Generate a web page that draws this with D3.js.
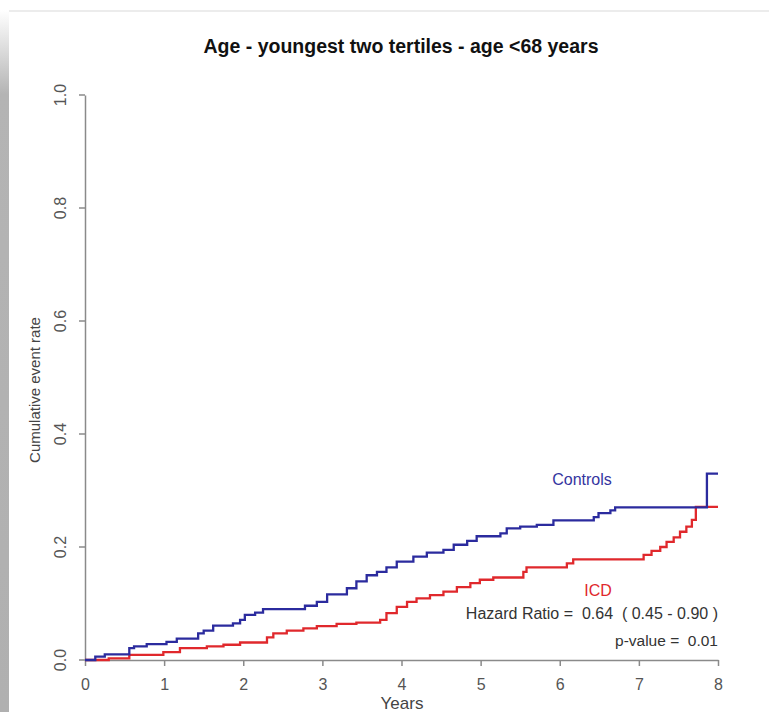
<!DOCTYPE html>
<html lang="en">
<head>
<meta charset="UTF-8">
<title>Age - youngest two tertiles</title>
<script src="https://d3js.org/d3.v7.min.js"></script>
<style>
  body { margin: 0; background: #fff; }
  svg { display: block; font-family: "Liberation Sans", Arial, sans-serif; }
  .axis path, .axis line { stroke: #8a8a8a; stroke-width: 1.5; }
  .axis text { fill: #555; }
</style>
</head>
<body>
<div id="chart"></div>
<script>
  // Controls (blue) step times and cumulative event rate
  const controlTimes = [0, 0.13, 0.25, 0.56, 0.62, 0.78, 1.03, 1.16, 1.43, 1.50, 1.62, 1.87, 1.96, 2.02, 2.15, 2.25,
    2.78, 2.93, 3.06, 3.31, 3.43, 3.56, 3.69, 3.81, 3.94, 4.15, 4.32, 4.53, 4.66, 4.83, 4.95, 5.25, 5.33, 5.50,
    5.71, 5.92, 6.43, 6.49, 6.64, 6.70, 7.86, 8.0];
  const controlRates = [0, 0.006, 0.010, 0.021, 0.024, 0.028, 0.032, 0.038, 0.047, 0.052, 0.061, 0.065, 0.071, 0.080, 0.084, 0.090,
    0.096, 0.103, 0.116, 0.127, 0.139, 0.150, 0.156, 0.164, 0.174, 0.183, 0.190, 0.195, 0.204, 0.211, 0.219, 0.224, 0.233, 0.236,
    0.239, 0.247, 0.253, 0.260, 0.265, 0.270, 0.330, 0.330];

  // ICD (red)
  const icdTimes = [0, 0.30, 0.56, 0.99, 1.20, 1.54, 1.75, 1.96, 2.30, 2.38, 2.55, 2.76, 2.93, 3.18, 3.43, 3.73, 3.81,
    3.94, 4.07, 4.19, 4.36, 4.53, 4.70, 4.87, 4.99, 5.16, 5.54, 5.58, 6.09, 6.17, 7.06, 7.16, 7.27, 7.35, 7.44,
    7.52, 7.60, 7.67, 7.72, 8.0];
  const icdRates = [0, 0.003, 0.009, 0.014, 0.021, 0.024, 0.027, 0.031, 0.040, 0.047, 0.052, 0.056, 0.060, 0.064, 0.066, 0.071, 0.083,
    0.094, 0.103, 0.109, 0.115, 0.121, 0.129, 0.136, 0.142, 0.146, 0.156, 0.164, 0.171, 0.178, 0.186, 0.193, 0.200, 0.209, 0.217,
    0.227, 0.236, 0.248, 0.271, 0.271];

  const xTicks = [0, 1, 2, 3, 4, 5, 6, 7, 8];
  const yTicks = [0, 0.2, 0.4, 0.6, 0.8, 1.0];

  const title = "Age - youngest two tertiles - age <68 years";
  const hazardText = "Hazard Ratio =  0.64  ( 0.45 - 0.90 )";
  const pText = "p-value =  0.01";

  const width = 769;
  const height = 712;

  const svg = d3.select("#chart")
    .append("svg")
    .attr("width", width)
    .attr("height", height);

  // screenshot frame: grey shadow at left, faint line on top
  const grad = svg.append("defs").append("linearGradient")
    .attr("id", "shade").attr("x1", 0).attr("x2", 0).attr("y1", 0).attr("y2", 1);
  grad.append("stop").attr("offset", "0").attr("stop-color", "#fff");
  grad.append("stop").attr("offset", "0.12").attr("stop-color", "#b4b4b4");
  grad.append("stop").attr("offset", "1").attr("stop-color", "#b0b0b0");
  svg.append("rect").attr("x", 0).attr("y", 10).attr("width", 9).attr("height", height - 10)
    .attr("fill", "url(#shade)");
  svg.append("line").attr("x1", 9).attr("x2", width).attr("y1", 11).attr("y2", 11)
    .attr("stroke", "#ececec").attr("stroke-width", 2);

  const x = d3.scaleLinear().domain([0, 8]).range([85, 718]);
  const y = d3.scaleLinear().domain([0, 1]).range([660, 95]);

  svg.append("g")
    .attr("class", "axis")
    .attr("transform", `translate(0,${y(0)})`)
    .call(d3.axisBottom(x).tickValues(xTicks).tickSize(6).tickSizeOuter(0).tickPadding(13))
    .selectAll("text").style("font-size", "16px");

  const yAxis = svg.append("g")
    .attr("class", "axis")
    .attr("transform", `translate(${x(0)},0)`)
    .call(d3.axisLeft(y).tickValues(yTicks).tickFormat(d3.format(".1f")).tickSize(6).tickSizeOuter(0));
  yAxis.selectAll(".tick").attr("transform", null);
  yAxis.selectAll(".tick line").attr("y1", d => y(d)).attr("y2", d => y(d));
  yAxis.selectAll("text")
    .attr("x", 0).attr("y", 0).attr("dy", "0.35em")
    .attr("transform", d => `translate(-25,${y(d)}) rotate(-90)`)
    .attr("text-anchor", "middle")
    .style("font-size", "16px");

  const line = d3.line()
    .x(d => x(d[0]))
    .y(d => y(d[1]))
    .curve(d3.curveStepAfter);

  svg.append("path")
    .datum(icdTimes.map((t, i) => [t, icdRates[i]]))
    .attr("d", line)
    .attr("fill", "none")
    .attr("stroke", "#e0282c")
    .attr("stroke-width", 2.3);

  svg.append("path")
    .datum(controlTimes.map((t, i) => [t, controlRates[i]]))
    .attr("d", line)
    .attr("fill", "none")
    .attr("stroke", "#2b2b9e")
    .attr("stroke-width", 2.3);

  svg.append("text")
    .attr("x", 401).attr("y", 53)
    .attr("text-anchor", "middle")
    .style("font-weight", "bold").style("font-size", "19.5px").attr("fill", "#111")
    .text(title);

  svg.append("text")
    .attr("x", 402).attr("y", 709)
    .attr("text-anchor", "middle")
    .style("font-size", "17px").attr("fill", "#444")
    .text("Years");

  svg.append("text")
    .attr("transform", "translate(40,390) rotate(-90)")
    .attr("text-anchor", "middle")
    .style("font-size", "15px").attr("fill", "#444")
    .text("Cumulative event rate");

  svg.append("text")
    .attr("x", 582).attr("y", 485)
    .attr("text-anchor", "middle")
    .style("font-size", "16px").attr("fill", "#3535a0")
    .text("Controls");

  svg.append("text")
    .attr("x", 598).attr("y", 596)
    .attr("text-anchor", "middle")
    .style("font-size", "16px").attr("fill", "#e0282c")
    .text("ICD");

  svg.append("text")
    .attr("x", x(8)).attr("y", 619)
    .attr("text-anchor", "end")
    .style("font-size", "16px").attr("fill", "#333")
    .style("white-space", "pre")
    .text(hazardText);

  svg.append("text")
    .attr("x", x(8)).attr("y", 646)
    .attr("text-anchor", "end")
    .style("font-size", "15.5px").attr("fill", "#333")
    .style("white-space", "pre")
    .text(pText);
</script>
</body>
</html>
